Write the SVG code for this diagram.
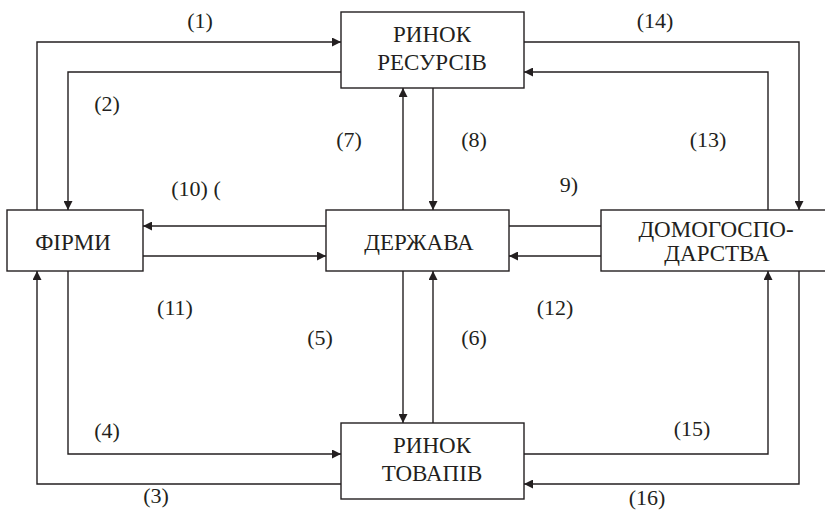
<svg xmlns="http://www.w3.org/2000/svg" width="825" height="513" viewBox="0 0 825 513">
<defs>
<marker id="ah" viewBox="0 0 10 10" refX="10" refY="5" markerWidth="9" markerHeight="9" markerUnits="userSpaceOnUse" orient="auto">
<path d="M0,0 L10,5 L0,10 z" fill="#231f20"/>
</marker>
</defs>
<rect width="825" height="513" fill="#fff"/>
<g id="connectors" fill="none" stroke="#231f20" stroke-width="1.4">
<path marker-end="url(#ah)" d="M37,210 V42 H341"/>
<path marker-end="url(#ah)" d="M341,72 H68 V210"/>
<path marker-end="url(#ah)" d="M524,42 H799 V210"/>
<path marker-end="url(#ah)" d="M768,210 V72 H524"/>
<path marker-end="url(#ah)" d="M403,210 V88"/>
<path marker-end="url(#ah)" d="M433,88 V210"/>
<path marker-end="url(#ah)" d="M326,226 H143"/>
<path marker-end="url(#ah)" d="M143,256 H326"/>
<path d="M601,226 H509"/>
<path marker-end="url(#ah)" d="M601,256 H509"/>
<path marker-end="url(#ah)" d="M403,271 V423"/>
<path marker-end="url(#ah)" d="M433,423 V271"/>
<path marker-end="url(#ah)" d="M68,271 V454 H341"/>
<path marker-end="url(#ah)" d="M341,484 H37 V271"/>
<path marker-end="url(#ah)" d="M524,454 H768 V271"/>
<path marker-end="url(#ah)" d="M799,271 V484 H524"/>
</g>
<g id="nodes" font-family="Liberation Serif, serif" font-size="23" text-anchor="middle">
<g id="resources">
<rect x="341" y="12" width="183" height="76" fill="#fff" stroke="#231f20" stroke-width="1.4"/>
<text x="432" y="42" fill="#231f20">РИНОК</text>
<text x="432" y="70" fill="#231f20">РЕСУРСІВ</text>
</g>
<g id="firms">
<rect x="7" y="210" width="136" height="61" fill="#fff" stroke="#231f20" stroke-width="1.4"/>
<text x="73" y="250" fill="#231f20">ФІРМИ</text>
</g>
<g id="state">
<rect x="326" y="210" width="183" height="61" fill="#fff" stroke="#231f20" stroke-width="1.4"/>
<text x="419" y="250" fill="#231f20">ДЕРЖАВА</text>
</g>
<g id="households">
<rect x="601" y="210" width="240" height="61" fill="#fff" stroke="#231f20" stroke-width="1.4"/>
<text x="716" y="237" fill="#231f20">ДОМОГОСПО-</text>
<text x="717" y="261" fill="#231f20">ДАРСТВА</text>
</g>
<g id="goods">
<rect x="341" y="423" width="183" height="76" fill="#fff" stroke="#231f20" stroke-width="1.4"/>
<text x="432" y="453" fill="#231f20">РИНОК</text>
<text x="432" y="481" fill="#231f20">ТОВАПІВ</text>
</g>
</g>
<g id="labels" font-family="Liberation Serif, serif" font-size="22" fill="#231f20" text-anchor="middle">
<text x="200" y="28">(1)</text>
<text x="107" y="111">(2)</text>
<text x="156" y="503">(3)</text>
<text x="107" y="438">(4)</text>
<text x="320" y="345">(5)</text>
<text x="474" y="345">(6)</text>
<text x="349" y="147">(7)</text>
<text x="474" y="147">(8)</text>
<text x="569" y="192">9)</text>
<text x="196" y="196">(10) (</text>
<text x="175" y="315">(11)</text>
<text x="555" y="315">(12)</text>
<text x="708" y="147">(13)</text>
<text x="655" y="28">(14)</text>
<text x="692" y="436">(15)</text>
<text x="647" y="505">(16)</text>
</g>
</svg>
